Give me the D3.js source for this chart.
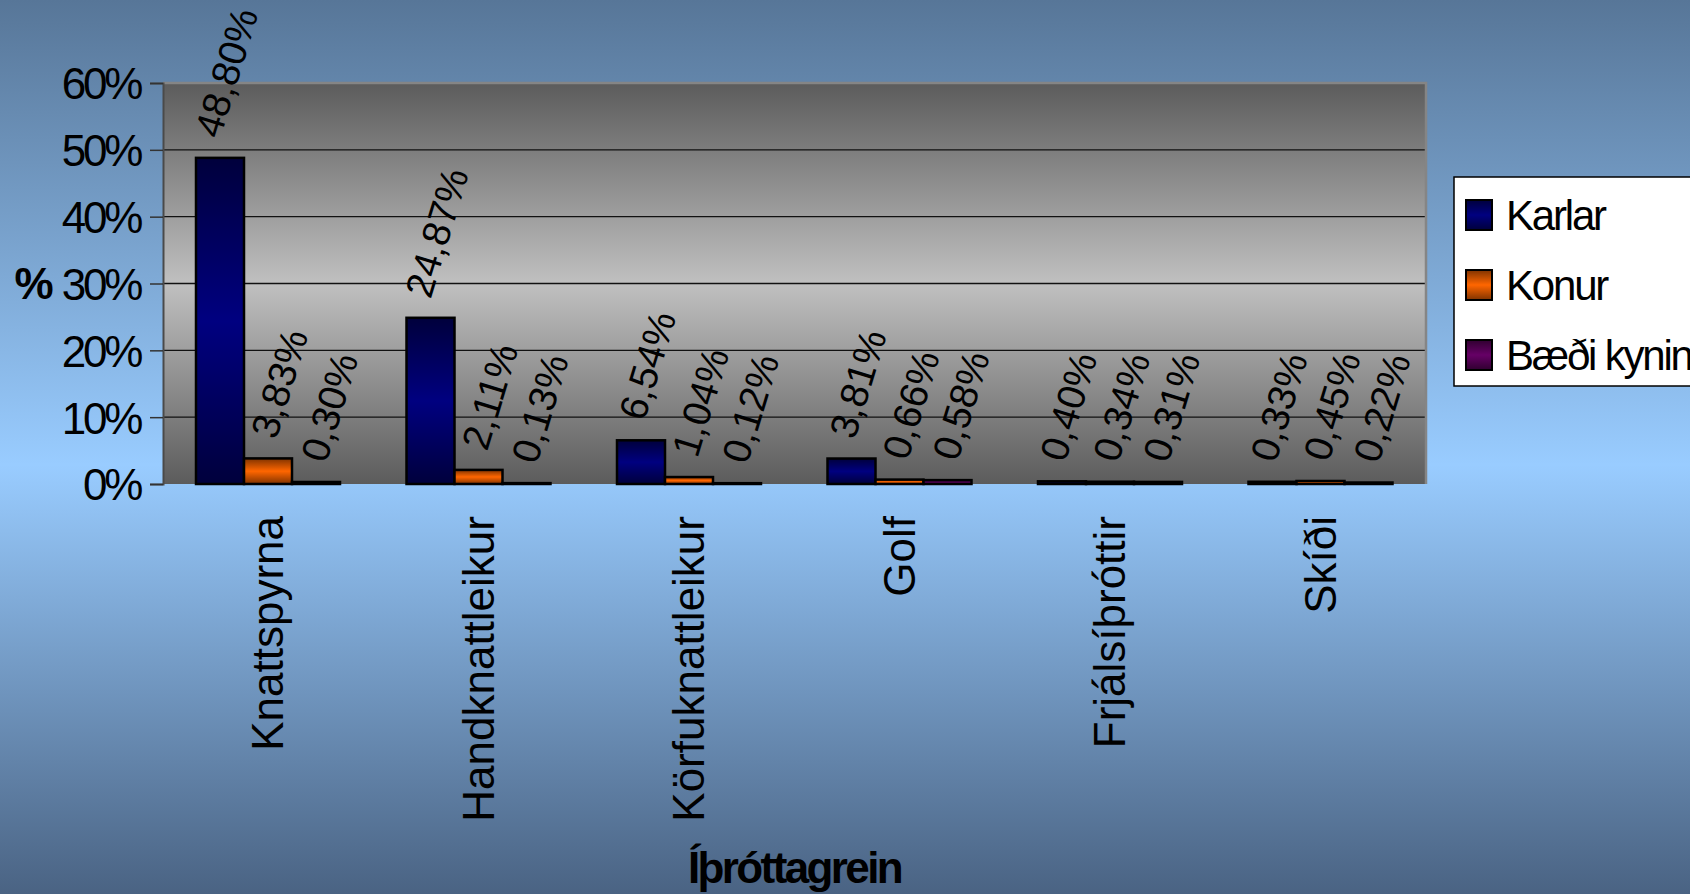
<!DOCTYPE html>
<html>
<head>
<meta charset="utf-8">
<script src="https://cdn.jsdelivr.net/npm/d3@7"></script>
<style>
  body { margin: 0; overflow: hidden; }
  text { font-family: "Liberation Sans", Arial, sans-serif; }
</style>
</head>
<body>
<div id="chart"></div>
<script>
const categories = ["Knattspyrna", "Handknattleikur", "Körfuknattleikur", "Golf", "Frjálsíþróttir", "Skíði"]
const seriesNames = ["Karlar", "Konur", "Bæði kynin"]
const karlar = [48.80, 24.87, 6.54, 3.81, 0.40, 0.33]
const konur = [3.83, 2.11, 1.04, 0.66, 0.34, 0.45]
const baedi = [0.30, 0.13, 0.12, 0.58, 0.31, 0.22]
const yTicks = [0, 10, 20, 30, 40, 50, 60]
const seriesColors = ["#000080", "#ff6600", "#660066"]
const seriesDark = ["#00003c", "#803300", "#300030"]

drawChart("#chart")

function drawChart(id){
    const canvas = createCanvas()
    d3.select(id).html("")
    const svg = d3.select(id).append("svg").attr("width", canvas.width).attr("height", canvas.height)

    addGradients(svg)
    svg.append("rect").attr("width", canvas.width).attr("height", canvas.height).attr("fill", "url(#bgGrad)")

    const rows = categories.map((c, i) => ({cat: c, values: [karlar[i], konur[i], baedi[i]]}))
    const x0 = d3.scaleBand().domain(categories).range([canvas.plot.left, canvas.plot.right]).padding(0)
    const x1 = d3.scaleBand().domain(d3.range(3)).range([33, 177]).padding(0)
    const y = d3.scaleLinear().domain([0, 60]).range([canvas.plot.bottom, canvas.plot.top])

    addPlotArea(svg, canvas, y)
    addBars(svg, rows, x0, x1, y)
    addAxes(svg, canvas, x0, y)
    addValueLabels(svg, rows, x0, x1, y)
    addLegend(svg)
    addTitles(svg, canvas)
}

function createCanvas(){
    return {
        width: 1690, height: 894,
        plot: {left: 163, right: 1426, top: 83, bottom: 484}
    }
}

function addGradients(svg){
    const defs = svg.append("defs")
    const bg = defs.append("linearGradient").attr("id", "bgGrad").attr("x1", 0).attr("y1", 0).attr("x2", 0).attr("y2", 1)
    bg.append("stop").attr("offset", "0").attr("stop-color", "#577698")
    bg.append("stop").attr("offset", "0.52").attr("stop-color", "#99ccff")
    bg.append("stop").attr("offset", "1").attr("stop-color", "#4a6383")

    const pg = defs.append("linearGradient").attr("id", "plotGrad").attr("x1", 0).attr("y1", 0).attr("x2", 0).attr("y2", 1)
    pg.append("stop").attr("offset", "0").attr("stop-color", "#5c5c5c")
    pg.append("stop").attr("offset", "0.5").attr("stop-color", "#c0c0c0")
    pg.append("stop").attr("offset", "1").attr("stop-color", "#5c5c5c")

    seriesColors.forEach((c, i) => {
        const g = defs.append("linearGradient").attr("id", "barGrad" + i).attr("x1", 0).attr("y1", 0).attr("x2", 0).attr("y2", 1)
        g.append("stop").attr("offset", "0").attr("stop-color", seriesDark[i])
        g.append("stop").attr("offset", "0.5").attr("stop-color", c)
        g.append("stop").attr("offset", "1").attr("stop-color", seriesDark[i])
    })
}

function addPlotArea(svg, canvas, y){
    const p = canvas.plot
    svg.append("rect").attr("x", p.left).attr("y", p.top).attr("width", p.right - p.left).attr("height", p.bottom - p.top)
    .attr("fill", "url(#plotGrad)")

    svg.selectAll(".grid").data(yTicks.filter(t => t > 0 && t < 60)).enter().append("line").attr("class", "grid")
    .attr("x1", p.left).attr("x2", p.right).attr("y1", d => y(d)).attr("y2", d => y(d))
    .attr("stroke", "#111").attr("stroke-width", 1.3)

    svg.append("path").attr("d", `M${p.left},${p.top}H${p.right}V${p.bottom}`)
    .attr("fill", "none").attr("stroke", "#858585").attr("stroke-width", 2.5)
}

function addBars(svg, rows, x0, x1, y){
    const groups = svg.selectAll(".group").data(rows).enter().append("g").attr("class", "group")
    .attr("transform", d => `translate(${x0(d.cat)},0)`)

    groups.selectAll("rect").data(d => d.values).enter().append("rect")
    .attr("x", (d, j) => x1(j)).attr("y", d => y(d)).attr("width", x1.bandwidth())
    .attr("height", d => y(0) - y(d))
    .attr("fill", (d, j) => `url(#barGrad${j})`).attr("stroke", "#000").attr("stroke-width", 2.5)
}

function addAxes(svg, canvas, x0, y){
    const yAxis = svg.append("g").attr("transform", `translate(${canvas.plot.left},0)`)
    .call(d3.axisLeft(y).tickValues(yTicks).tickFormat(d => d + "%").tickSize(13).tickPadding(10))
    yAxis.select(".domain").attr("stroke", "#4a4a4a").attr("stroke-width", 2)
    yAxis.selectAll(".tick line").attr("stroke", "#333").attr("stroke-width", 1.5)
    yAxis.selectAll(".tick text").attr("font-size", 44).attr("letter-spacing", "-3.3px")
    .attr("dy", "0.36em").attr("fill", "#000")

    const xAxis = svg.append("g").attr("transform", `translate(0,${canvas.plot.bottom})`)
    .call(d3.axisBottom(x0).tickSize(0))
    xAxis.select(".domain").remove()
    xAxis.selectAll(".tick text").attr("font-size", 44).attr("fill", "#000")
    .attr("transform", "rotate(-90)").attr("text-anchor", "end").attr("x", -32).attr("y", 0).attr("dy", "0.34em")
}

function addValueLabels(svg, rows, x0, x1, y){
    const angle = 73
    const rad = angle * Math.PI / 180
    const fs = 39
    const h = 0.716 * fs
    const offsets = [6, 11, 13]
    const items = []
    rows.forEach(r => r.values.forEach((v, j) => items.push({cat: r.cat, v: v, j: j})))

    svg.selectAll(".vlabel").data(items).enter().append("text").attr("class", "vlabel")
    .attr("font-size", fs).attr("text-anchor", "middle").attr("dy", "0.358em").attr("fill", "#000")
    .text(d => d.v.toFixed(2).replace(".", ",") + "%")
    .each(function(d){
        const L = this.getComputedTextLength()
        const half = (L * Math.sin(rad) + h * Math.cos(rad)) / 2
        const cx = x0(d.cat) + x1(d.j) + x1.bandwidth() / 2 + offsets[d.j]
        const cy = y(d.v) - 18 - half
        d3.select(this).attr("transform", `translate(${cx},${cy}) rotate(${-angle})`)
    })
}

function addLegend(svg){
    const lg = svg.append("g").attr("transform", "translate(1454,177)")
    lg.append("rect").attr("width", 280).attr("height", 209).attr("fill", "#fff").attr("stroke", "#000").attr("stroke-width", 1.5)

    const items = lg.selectAll(".item").data(seriesNames).enter().append("g").attr("class", "item")
    .attr("transform", (d, i) => `translate(0,${38 + i * 70})`)
    items.append("rect").attr("x", 12).attr("y", -15).attr("width", 26).attr("height", 30)
    .attr("fill", (d, i) => `url(#barGrad${i})`).attr("stroke", "#000").attr("stroke-width", 2)
    items.append("text").attr("x", 52).attr("y", 15).attr("font-size", 42).attr("letter-spacing", "-2.2px")
    .attr("fill", "#000").text(d => d)
}

function addTitles(svg, canvas){
    svg.append("text").attr("x", 34).attr("y", 299).attr("text-anchor", "middle")
    .attr("font-size", 44).attr("font-weight", "bold").text("%")

    svg.append("text").attr("x", (canvas.plot.left + canvas.plot.right) / 2).attr("y", 883).attr("text-anchor", "middle")
    .attr("font-size", 44).attr("font-weight", "bold").attr("letter-spacing", "-2.6px").text("Íþróttagrein")
}
</script>
</body>
</html>
